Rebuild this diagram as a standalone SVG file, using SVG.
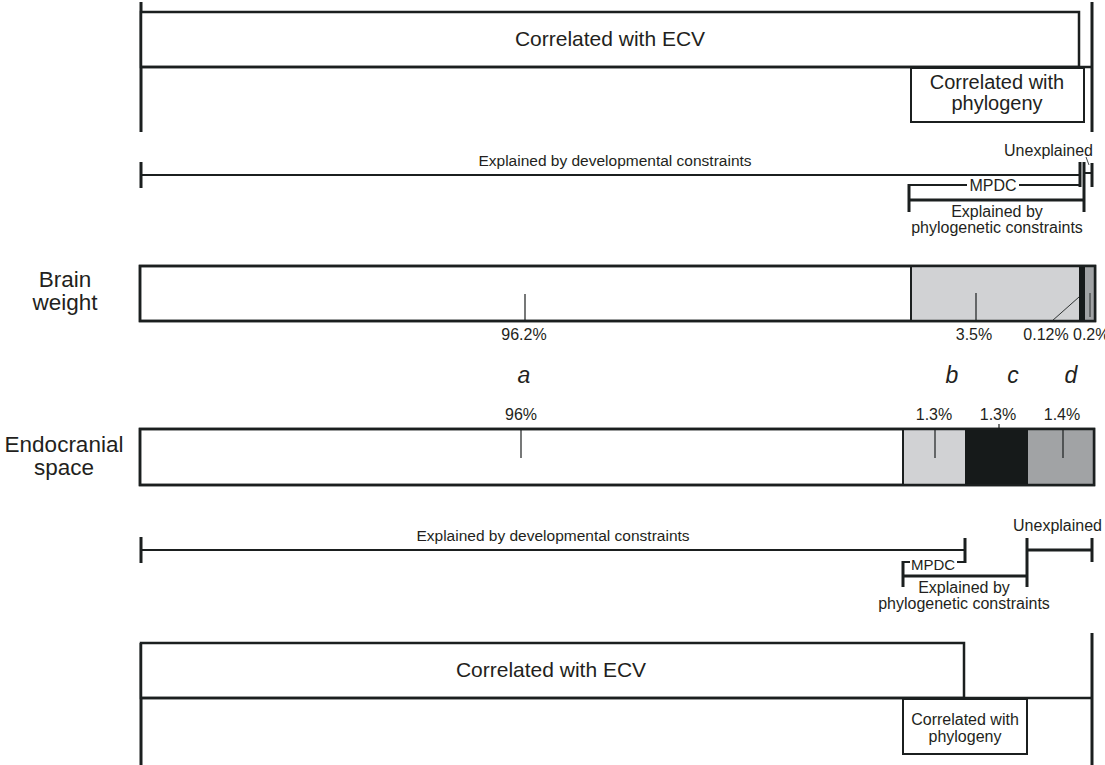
<svg xmlns="http://www.w3.org/2000/svg" width="1105" height="765" viewBox="0 0 1105 765">
<style>
text{font-family:"Liberation Sans",Arial,sans-serif;fill:#231f20}
.big{font-size:21px;text-anchor:middle}
.lab{font-size:16px;text-anchor:middle}
.row{font-size:22.5px;text-anchor:middle}
.let{font-size:23px;font-style:italic;text-anchor:middle}
.ln{stroke:#1b1f1f;stroke-width:2;fill:none}
.thin{stroke:#1b1f1f;stroke-width:1.2;fill:none}
.tk{stroke:#1b1f1f;stroke-width:3;fill:none}
.box{fill:#fff;stroke:#1b1f1f;stroke-width:2}
.bar{fill:#fff;stroke:#1b1f1f;stroke-width:2.5}
</style>
<rect width="1105" height="765" fill="#fff"/>

<g id="top-ecv">
<line class="tk" x1="141" y1="2" x2="141" y2="132"/>
<line class="tk" x1="1092" y1="2" x2="1092" y2="132"/>
<rect class="box" x="141" y="12" width="938" height="55" style="stroke-width:2.5"/>
<line class="ln" x1="141" y1="67" x2="1092" y2="67" style="stroke-width:2.5"/>
<text class="big" x="610" y="46">Correlated with ECV</text>
</g>
<g id="top-phylogeny">
<rect class="box" x="911" y="68" width="173" height="54"/>
<text class="big" x="997" y="89" style="font-size:20px">Correlated with</text>
<text class="big" x="997" y="110" style="font-size:20px">phylogeny</text>
</g>

<g id="connectors">
<line class="ln" x1="141" y1="175" x2="1080" y2="175"/>
<line class="tk" x1="141" y1="162" x2="141" y2="188"/>
<line class="tk" x1="1080" y1="162" x2="1080" y2="187"/>
<line class="tk" x1="1084" y1="162" x2="1084" y2="212"/>
<line class="ln" x1="1084" y1="173" x2="1092" y2="173"/>
<line class="tk" x1="1092" y1="163" x2="1092" y2="187"/>
<line class="thin" x1="1086" y1="157" x2="1089" y2="165" style="stroke-width:0.8"/>
<line class="ln" x1="909" y1="185" x2="967" y2="185"/>
<line class="ln" x1="1019" y1="185" x2="1080" y2="185"/>
<line class="tk" x1="909" y1="184" x2="909" y2="212"/>
<line class="tk" x1="909" y1="200" x2="1084" y2="200"/>
<line class="ln" x1="141" y1="550" x2="965" y2="550"/>
<line class="tk" x1="141" y1="537" x2="141" y2="563"/>
<line class="tk" x1="965" y1="538" x2="965" y2="563"/>
<line class="ln" x1="957" y1="562" x2="965" y2="562"/>
<line class="ln" x1="903" y1="562" x2="910" y2="562"/>
<line class="tk" x1="903" y1="561" x2="903" y2="587"/>
<line class="tk" x1="903" y1="576" x2="1027" y2="576"/>
<line class="tk" x1="1027" y1="538" x2="1027" y2="587"/>
<line class="tk" x1="1027" y1="550" x2="1092" y2="550"/>
<line class="tk" x1="1092" y1="538" x2="1092" y2="562"/>
</g>

<g id="top-labels">
<text class="lab" x="615" y="166" style="font-size:15.5px">Explained by developmental constraints</text>
<text class="lab" x="1093" y="156" style="text-anchor:end">Unexplained</text>
<text class="lab" x="993" y="191">MPDC</text>
<text class="lab" x="997" y="217">Explained by</text>
<text class="lab" x="997" y="233">phylogenetic constraints</text>
</g>

<g id="brain-weight">
<text class="row" x="65" y="287">Brain</text>
<text class="row" x="65" y="310">weight</text>
<rect class="bar" x="140" y="266" width="955" height="55"/>
<rect x="911" y="267" width="168" height="53" fill="#d1d2d4"/>
<rect x="1079" y="267" width="6" height="53" fill="#161a1a"/>
<rect x="1085" y="267" width="9" height="53" fill="#a1a3a5"/>
<line class="ln" x1="911" y1="266" x2="911" y2="321"/>
<rect x="140" y="266" width="955" height="55" fill="none" stroke="#1b1f1f" stroke-width="2.5"/>
<line class="thin" x1="525" y1="294" x2="525" y2="321"/>
<line class="thin" x1="976" y1="293" x2="976" y2="321"/>
<line class="thin" x1="1079" y1="297" x2="1052" y2="321" style="stroke-width:0.9"/>
<line class="thin" x1="1090" y1="293" x2="1090" y2="317" style="stroke-width:0.9"/>
<text class="lab" x="524" y="340">96.2%</text>
<text class="lab" x="974" y="340">3.5%</text>
<text class="lab" x="1046" y="340">0.12%</text>
<text class="lab" x="1073" y="340" style="text-anchor:start">0.2%</text>
</g>

<g id="letters">
<text class="let" x="524" y="383">a</text>
<text class="let" x="952" y="383">b</text>
<text class="let" x="1013" y="383">c</text>
<text class="let" x="1071" y="383">d</text>
</g>

<g id="endocranial-space">
<text class="row" x="64" y="452">Endocranial</text>
<text class="row" x="64" y="475">space</text>
<rect class="bar" x="140" y="429" width="954" height="56"/>
<rect x="903" y="430" width="62" height="54" fill="#d1d2d4"/>
<rect x="965" y="430" width="63" height="54" fill="#161a1a"/>
<rect x="1028" y="430" width="65" height="54" fill="#a1a3a5"/>
<line class="ln" x1="903" y1="429" x2="903" y2="485"/>
<rect x="140" y="429" width="954" height="56" fill="none" stroke="#1b1f1f" stroke-width="2.5"/>
<line class="thin" x1="521" y1="430" x2="521" y2="458"/>
<line class="thin" x1="935" y1="429" x2="935" y2="458"/>
<line class="thin" x1="999" y1="424" x2="999" y2="430"/>
<line class="thin" x1="1063" y1="429" x2="1063" y2="458"/>
<text class="lab" x="521" y="420">96%</text>
<text class="lab" x="934" y="420">1.3%</text>
<text class="lab" x="998" y="420">1.3%</text>
<text class="lab" x="1062" y="420">1.4%</text>
</g>

<g id="bottom-labels">
<text class="lab" x="553" y="541" style="font-size:15.5px">Explained by developmental constraints</text>
<text class="lab" x="1102" y="531" style="text-anchor:end">Unexplained</text>
<text class="lab" x="933" y="570" style="font-size:15px">MPDC</text>
<text class="lab" x="964" y="593">Explained by</text>
<text class="lab" x="964" y="609">phylogenetic constraints</text>
</g>

<g id="bottom-ecv">
<line class="tk" x1="141" y1="643" x2="141" y2="765"/>
<line class="tk" x1="1092" y1="633" x2="1092" y2="765"/>
<rect class="box" x="141" y="643" width="823" height="55" style="stroke-width:2.5"/>
<line class="ln" x1="141" y1="698" x2="1092" y2="698" style="stroke-width:2.5"/>
<text class="big" x="551" y="677">Correlated with ECV</text>
</g>
<g id="bottom-phylogeny">
<rect class="box" x="903" y="699" width="124" height="55"/>
<text class="lab" x="965" y="725">Correlated with</text>
<text class="lab" x="965" y="742">phylogeny</text>
</g>
</svg>
